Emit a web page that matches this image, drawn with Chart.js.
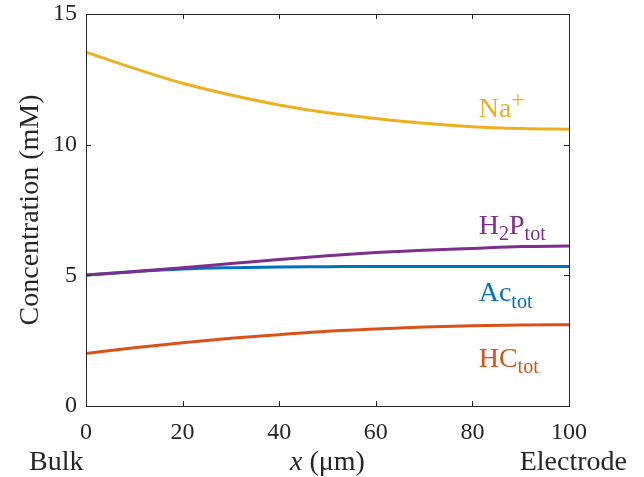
<!DOCTYPE html>
<html>
<head>
<meta charset="utf-8">
<script src="https://cdn.jsdelivr.net/npm/chart.js@4/dist/chart.umd.min.js"></script>
<style>
  body { margin: 0; background: #fff; }
  canvas { display: block; }
</style>
</head>
<body>
<canvas id="chart" width="644" height="477"></canvas>
<script>
// x positions (um) and concentrations (mM)
var xVals = [0, 10, 20, 30, 40, 50, 60, 70, 80, 90, 100];
var naVals = [13.54, 12.92, 12.35, 11.90, 11.52, 11.22, 11.00, 10.82, 10.69, 10.62, 10.59];
var h2pVals = [5.01, 5.15, 5.29, 5.45, 5.61, 5.75, 5.87, 5.96, 6.03, 6.10, 6.12];
var acVals = [5.01, 5.14, 5.24, 5.29, 5.32, 5.33, 5.34, 5.34, 5.34, 5.34, 5.34];
var hcVals = [2.01, 2.23, 2.42, 2.59, 2.73, 2.86, 2.95, 3.02, 3.07, 3.10, 3.11];

var xTicks = [0, 20, 40, 60, 80, 100];
var yTicks = [0, 5, 10, 15];

var SERIF = '"Liberation Serif", "Times New Roman", serif';
var AXIS = '#262626';

function pts(vals) {
  return vals.map(function(v, i) { return { x: xVals[i], y: v }; });
}

// series labels with sub/superscripts
var seriesLabels = [
  { color: '#EDB120', y: 11.06, parts: [['Na', 0], ['+', -1]] },
  { color: '#7E2F8E', y: 6.6, parts: [['H', 0], ['2', 1], ['P', 0], ['tot', 1]] },
  { color: '#0072BD', y: 4.0, parts: [['Ac', 0], ['tot', 1]] },
  { color: '#D95319', y: 1.5, parts: [['HC', 0], ['tot', 1]] }
];

function drawParts(ctx, x, y, parts, size) {
  parts.forEach(function(p) {
    var s = p[1] === 0 ? size : (p[1] === -1 ? size * 0.85 : size * 0.72);
    var dy = p[1] === 1 ? size * 0.22 : (p[1] === -1 ? -size * 0.36 : 0);
    ctx.font = s + 'px ' + SERIF;
    ctx.fillText(p[0], x, y + dy);
    x += ctx.measureText(p[0]).width;
  });
}

var boxPlugin = {
  id: 'box',
  afterDraw: function(chart) {
    var ctx = chart.ctx;
    var a = chart.chartArea;
    var xs = chart.scales.x, ys = chart.scales.y;
    ctx.save();
    ctx.strokeStyle = AXIS;
    ctx.lineWidth = 1;
    ctx.strokeRect(Math.round(a.left) + 0.5, Math.round(a.top) + 0.5,
      Math.round(a.right - a.left), Math.round(a.bottom - a.top));
    ctx.beginPath();
    xTicks.forEach(function(t) {
      var px = Math.round(xs.getPixelForValue(t)) + 0.5;
      ctx.moveTo(px, a.bottom); ctx.lineTo(px, a.bottom - 5);
      ctx.moveTo(px, a.top); ctx.lineTo(px, a.top + 5);
    });
    yTicks.forEach(function(t) {
      var py = Math.round(ys.getPixelForValue(t)) + 0.5;
      ctx.moveTo(a.left, py); ctx.lineTo(a.left + 5, py);
      ctx.moveTo(a.right, py); ctx.lineTo(a.right - 5, py);
    });
    ctx.stroke();

    // series labels
    ctx.textBaseline = 'alphabetic';
    ctx.textAlign = 'left';
    var lx = xs.getPixelForValue(81.3);
    seriesLabels.forEach(function(l) {
      ctx.fillStyle = l.color;
      drawParts(ctx, lx, ys.getPixelForValue(l.y), l.parts, 28);
    });

    // x axis title and end labels
    ctx.fillStyle = AXIS;
    ctx.font = 'italic 28px ' + SERIF;
    var base = 470;
    var t1 = 'x';
    var t2 = ' (\u03bcm)';
    var w1 = ctx.measureText(t1).width;
    ctx.font = '28px ' + SERIF;
    var w2 = ctx.measureText(t2).width;
    var cx = (a.left + a.right) / 2 - (w1 + w2) / 2;
    ctx.font = 'italic 28px ' + SERIF;
    ctx.fillText(t1, cx, base);
    ctx.font = '28px ' + SERIF;
    ctx.fillText(t2, cx + w1, base);
    ctx.textAlign = 'left';
    ctx.fillText('Bulk', 29, base);
    ctx.textAlign = 'right';
    ctx.fillText('Electrode', 627, base);
    ctx.restore();
  }
};

var ctx = document.getElementById('chart').getContext('2d');
var myChart = new Chart(ctx, {
  type: 'line',
  data: {
    datasets: [
      { label: 'Na+', data: pts(naVals), borderColor: '#EDB120' },
      { label: 'H2P', data: pts(h2pVals), borderColor: '#7E2F8E' },
      { label: 'HC', data: pts(hcVals), borderColor: '#D95319' },
      { label: 'Ac', data: pts(acVals), borderColor: '#0072BD' }
    ]
  },
  options: {
    responsive: false,
    animation: false,
    layout: { padding: { top: 14, right: 75, left: 0, bottom: 0 } },
    elements: {
      point: { radius: 0 },
      line: { borderWidth: 3, tension: 0.4, cubicInterpolationMode: 'monotone', fill: false }
    },
    plugins: { legend: { display: false }, tooltip: { enabled: false } },
    scales: {
      x: {
        type: 'linear', min: 0, max: 100,
        grid: { display: false, drawTicks: false },
        border: { display: false },
        ticks: { stepSize: 20, color: AXIS, padding: 12, font: { family: SERIF, size: 24 } },
        afterFit: function(s) { s.height = 71; s.paddingLeft = 0; s.paddingRight = 0; }
      },
      y: {
        min: 0, max: 15,
        grid: { display: false, drawTicks: false },
        border: { display: false },
        ticks: { stepSize: 5, color: AXIS, padding: 9, font: { family: SERIF, size: 24 } },
        title: { display: true, text: 'Concentration (mM)', color: AXIS,
          font: { family: SERIF, size: 28 }, padding: { top: 14, bottom: 0 } },
        afterFit: function(s) { s.width = 86; s.paddingTop = 0; s.paddingBottom = 0; }
      }
    }
  },
  plugins: [boxPlugin]
});
</script>
</body>
</html>
